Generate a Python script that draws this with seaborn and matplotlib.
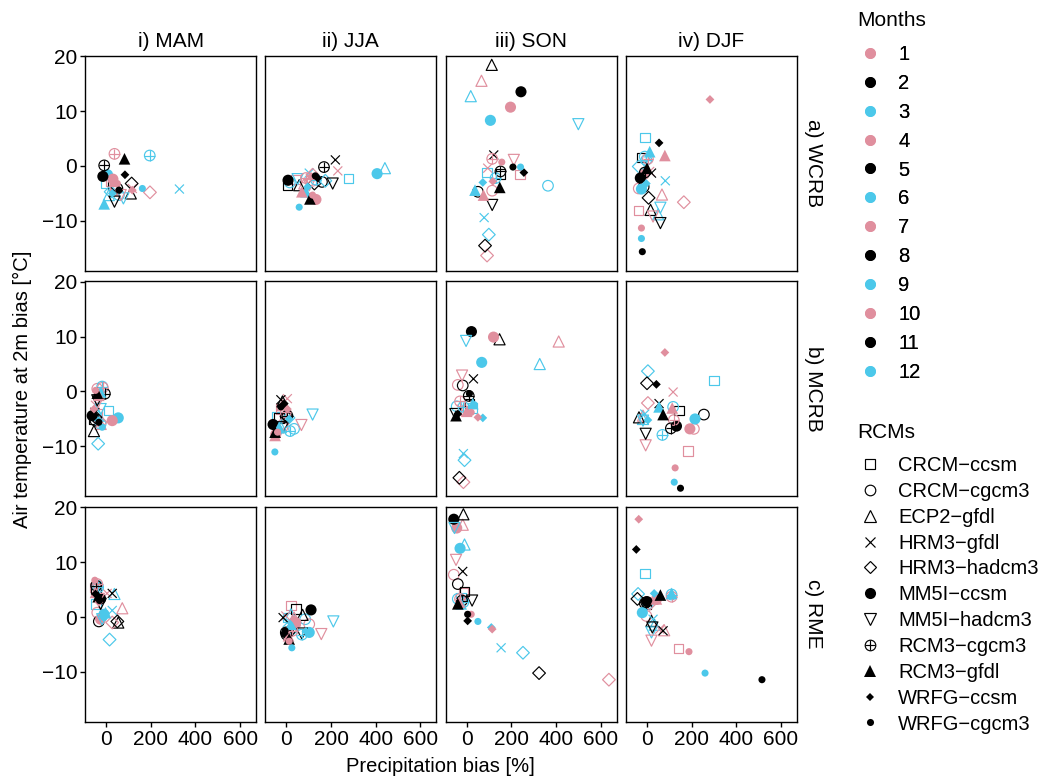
import matplotlib
matplotlib.use("Agg")
import matplotlib.pyplot as plt
from matplotlib.lines import Line2D
import pandas as pd
import seaborn as sns

REGIONS = ["WCRB", "MCRB", "RME"]
REGION_LABELS = ["a) WCRB", "b) MCRB", "c) RME"]
SEASONS = ["MAM", "JJA", "SON", "DJF"]
SEASON_LABELS = ["i) MAM", "ii) JJA", "iii) SON", "iv) DJF"]
SEASON_MONTHS = [[3, 4, 5], [6, 7, 8], [9, 10, 11], [12, 1, 2]]
RCMS = ["CRCM-ccsm", "CRCM-cgcm3", "ECP2-gfdl", "HRM3-gfdl", "HRM3-hadcm3", "MM5I-ccsm",
        "MM5I-hadcm3", "RCM3-cgcm3", "RCM3-gfdl", "WRFG-ccsm", "WRFG-cgcm3"]

# values per panel: RCM by RCM, each with the 3 months of the season
WCRB_MAM_X = [-3, 20, 27, 57, 42, 50, 12, 42, 110, 328, 117, 42, 20, 196, 114, 6, 30, -15,
              77, 65, 37, 195, 37, -9, -9, 35, 82, 27, 117, 84, 162, 50, 57]
WCRB_MAM_Y = [-3.2, -2.8, -3.6, -5.3, -4.4, -4.1, -5.3, -3.8, -5.0, -4.2, -4.1, -4.7, -4.7, -4.8, -3.2,
              -1.6, -2.4, -1.9, -5.9, -5.3, -6.5, 1.9, 2.2, 0.1, -6.9, -2.8, 1.3, -5.0, -4.4, -1.6,
              -4.1, -3.2, -4.4]
WCRB_JJA_X = [279, 42, 4, 15, 117, 159, 441, 80, 57, 102, 230, 219, 174, 117, 125, 406, 132, 7,
              50, 102, 207, 132, 87, 168, 87, 69, 105, 95, 110, 140, 57, 117, 129]
WCRB_JJA_Y = [-2.3, -2.5, -3.6, -3.0, -2.7, -2.9, -0.4, -3.2, -3.5, -1.3, -0.9, 1.1, -2.7, -1.6, -3.2,
              -1.4, -6.1, -2.6, -2.4, -3.5, -3.2, -2.5, -2.2, -0.2, -4.7, -4.7, -6.0, -3.8, -1.9, -2.2,
              -7.5, -5.3, -1.8]
WCRB_SON_X = [91, 238, 151, 364, 114, 50, 18, 66, 112, 78, 94, 121, 99, 91, 82, 106, 196, 243,
              500, 211, 114, 129, 114, 151, 37, 75, 148, 72, 117, 256, 241, 157, 207]
WCRB_SON_Y = [-1.2, -1.6, -1.5, -3.6, -4.5, -4.7, 12.7, 15.5, 18.4, -9.4, -0.4, 2.0, -12.5, -16.3, -14.5,
              8.3, 10.7, 13.5, 7.6, 1.1, -7.1, -2.2, 1.3, -1.0, -4.4, -5.3, -3.9, -3.0, -2.8, -1.2,
              -0.2, 0.7, -0.2]
WCRB_DJF_X = [-9, -37, -25, -10, -37, -15, 50, 67, 16, 82, 12, 20, -37, 165, 7, -25, -15, -30,
              60, 27, 60, -3, 4, -10, 12, 80, 0, -3, 282, 54, -25, -25, -21]
WCRB_DJF_Y = [5.2, -8.1, 1.5, 1.7, -4.1, -3.8, -8.8, -5.2, -8.0, -2.7, -1.0, -1.3, -0.1, -6.6, -5.8,
              -4.2, -1.6, -2.2, -7.6, -9.2, -10.4, 1.1, 1.3, -1.2, 2.6, 1.9, -0.4, -3.2, 12.1, 4.2,
              -13.2, -11.3, -15.6]

MCRB_MAM_X = [9, -40, -55, -25, -40, -48, -33, -25, -55, -40, -48, -51, -36, -25, -48, 54, 27, -63,
              -25, -36, -40, -18, -15, -6, -25, -33, -40, -33, -55, -66, -18, -48, -33]
MCRB_MAM_Y = [-3.5, -4.1, -5.0, -5.9, 0.5, -5.3, -4.4, -5.9, -7.2, -4.7, -2.5, -3.8, -9.5, -5.6, -4.7,
              -4.8, -5.3, -4.4, -3.2, -1.9, -1.6, 0.9, 0.7, -0.4, -0.1, -0.7, -0.3, -5.3, -3.2, -4.5,
              -6.5, 0.2, -5.6]
MCRB_JJA_X = [-45, -25, -33, 34, -18, -3, -25, -18, -18, -40, 4, -25, 9, -18, 0, -40, -48, -60,
              117, 67, -15, 16, -3, 4, -33, -51, -51, 12, 4, -10, -52, -40, -25]
MCRB_JJA_Y = [-4.5, -3.2, -4.8, -6.8, -6.5, -4.7, -6.5, -2.5, -1.8, -5.9, -1.3, -1.5, -4.8, -5.9, -4.5,
              -7.1, -7.8, -6.0, -4.2, -6.1, -6.5, -7.2, -3.8, -4.4, -6.5, -8.0, -7.4, -5.0, -3.2, -2.2,
              -11.0, -7.4, -2.8]
MCRB_SON_X = [27, -3, 12, -45, -40, -18, 327, 412, 147, -15, -25, 30, -10, -15, -33, 67, 120, 21,
              -3, -21, -51, -15, -30, 9, 27, 0, -48, 72, 50, -40, 34, 20, 12]
MCRB_SON_Y = [-3.0, -3.5, -2.2, -2.7, 1.2, 1.1, 5.0, 9.1, 9.5, -11.3, -3.2, 2.3, -12.5, -16.5, -15.7,
              5.3, 9.9, 10.9, 9.2, 2.9, -4.1, -2.8, -1.8, -0.8, -2.2, -3.6, -4.4, -4.8, -4.7, -4.1,
              -2.4, -3.8, -0.4]
MCRB_DJF_X = [301, 184, 143, 117, 210, 255, -18, -18, -36, -10, 117, 54, 4, 4, 0, 215, 192, 132,
              -18, -6, -6, 69, 120, 107, 54, 113, 72, 4, 80, 42, 122, 126, 150]
MCRB_DJF_Y = [2.0, -10.8, -3.5, -2.8, -6.8, -4.2, -5.0, -4.4, -4.7, -4.1, -0.1, -2.2, 3.7, -2.1, 1.5,
              -5.0, -6.8, -6.3, -5.3, -9.8, -7.7, -7.9, -5.2, -6.7, -2.8, -3.0, -4.2, -5.2, 7.1, 1.3,
              -16.5, -13.9, -17.6]

RME_MAM_X = [-45, -51, -45, -40, -40, -33, 37, 72, 54, 27, 4, 27, 15, 27, 50, -10, -25, -25,
             -18, -33, -25, -36, -40, -45, -3, -48, -36, -15, -33, -48, -10, -51, -30]
RME_MAM_Y = [2.4, 5.4, 5.1, 5.7, 0.8, -0.8, 4.2, 1.6, -1.0, 1.2, 4.3, 4.3, -4.1, -1.0, -0.8,
             0.5, -0.4, 3.3, -0.4, 3.3, 2.4, 5.4, 6.0, 5.7, 0.8, 4.5, 3.7, 0.2, 2.7, 4.2,
             -0.1, 6.7, 3.0]
RME_JJA_X = [4, 20, 42, 84, 102, -3, 20, 34, 72, 4, -3, -15, 27, 34, 9, 102, 42, 110,
             210, 156, 69, 69, 27, 0, 20, 9, 12, 87, 34, -10, 24, 12, -6]
RME_JJA_Y = [-0.1, 2.1, 1.5, -0.4, -1.3, -2.8, 0.5, -0.1, 0.4, -1.0, 0.2, -0.1, -2.2, -1.6, -2.8,
             -2.8, -1.0, 1.3, -0.8, -3.1, -3.0, -3.2, -2.5, -3.2, -1.3, -3.4, -4.0, -2.6, -0.4, -3.0,
             -5.6, -4.4, -2.5]
RME_SON_X = [-25, -15, -10, -40, -58, -40, -10, -18, -15, 154, -25, -18, 252, 637, 324, -30, -45, -58,
             -55, -48, 24, -15, -30, -21, -25, -33, -40, 110, 114, 4, 50, 20, 4]
RME_SON_Y = [3.6, 4.5, 4.7, 3.3, 7.7, 6.0, 13.2, 16.8, 18.7, -5.6, 2.7, 8.3, -6.5, -11.4, -10.2,
             12.5, 16.2, 17.8, 16.2, 10.4, 3.0, 2.7, 3.3, 3.0, 2.4, 2.7, 2.4, -1.9, -2.2, -0.7,
             -0.8, 0.5, 0.5]
RME_DJF_X = [-9, 141, -3, 4, -3, -10, 34, 77, 20, 27, 57, 72, -40, 12, -43, -21, 42, 0,
             20, 20, 24, 110, 110, -3, 110, 42, 60, 32, -37, -48, 260, 188, 515]
RME_DJF_Y = [7.9, -5.7, 2.4, 2.4, 0.2, 2.5, -1.4, -2.4, -0.7, -0.4, -2.2, -2.5, 4.2, 2.4, 3.3,
             0.8, 3.2, 2.8, -2.8, -4.3, -1.9, 4.1, 3.7, 2.7, 4.3, 3.3, 4.0, 4.3, 17.8, 12.3,
             -10.2, -6.3, -11.4]

PANELS = {
    ("WCRB", "MAM"): (WCRB_MAM_X, WCRB_MAM_Y), ("WCRB", "JJA"): (WCRB_JJA_X, WCRB_JJA_Y),
    ("WCRB", "SON"): (WCRB_SON_X, WCRB_SON_Y), ("WCRB", "DJF"): (WCRB_DJF_X, WCRB_DJF_Y),
    ("MCRB", "MAM"): (MCRB_MAM_X, MCRB_MAM_Y), ("MCRB", "JJA"): (MCRB_JJA_X, MCRB_JJA_Y),
    ("MCRB", "SON"): (MCRB_SON_X, MCRB_SON_Y), ("MCRB", "DJF"): (MCRB_DJF_X, MCRB_DJF_Y),
    ("RME", "MAM"): (RME_MAM_X, RME_MAM_Y), ("RME", "JJA"): (RME_JJA_X, RME_JJA_Y),
    ("RME", "SON"): (RME_SON_X, RME_SON_Y), ("RME", "DJF"): (RME_DJF_X, RME_DJF_Y),
}

PINK, BLACK, CYAN = "#E08F9E", "#000000", "#4CC8EA"
MONTH_COLORS = {str(m): [CYAN, PINK, BLACK][m % 3] for m in range(1, 13)}

# marker, size (pt^2), hollow
STYLES = {
    "CRCM-ccsm": ("s", 46, True),
    "CRCM-cgcm3": ("o", 58, True),
    "ECP2-gfdl": ("^", 64, True),
    "HRM3-gfdl": ("x", 42, True),
    "HRM3-hadcm3": ("D", 42, True),
    "MM5I-ccsm": ("o", 64, False),
    "MM5I-hadcm3": ("v", 64, True),
    "RCM3-cgcm3": ("o", 58, True),
    "RCM3-gfdl": ("^", 70, False),
    "WRFG-ccsm": ("D", 20, False),
    "WRFG-cgcm3": ("o", 26, False),
}
LW = 0.85

rows = []
for reg in REGIONS:
    for si, sea in enumerate(SEASONS):
        xs, ys = PANELS[(reg, sea)]
        for i in range(len(xs)):
            rows.append(dict(region=reg, season=sea, rcm=RCMS[i // 3],
                             month=str(SEASON_MONTHS[si][i % 3]), precip=xs[i], temp=ys[i]))
df = pd.DataFrame(rows)

sns.set_style("white")
plt.rcParams["font.family"] = ["Liberation Sans", "DejaVu Sans"]
plt.rcParams["text.color"] = "black"

fig, axes = plt.subplots(3, 4, figsize=(10.62, 7.78), dpi=100, sharex=True, sharey=True)
fig.subplots_adjust(left=85 / 1062, right=797 / 1062, top=1 - 55.5 / 778, bottom=1 - 722 / 778,
                    wspace=0.053, hspace=0.047)


def draw(ax, sub, marker, size, hollow):
    sns.scatterplot(data=sub, x="precip", y="temp", hue="month", palette=MONTH_COLORS,
                    marker=marker, s=size, linewidth=0, legend=False, ax=ax, zorder=3)
    pts = ax.collections[-1]
    if hollow:
        fc = pts.get_facecolors()
        pts.set_facecolors("none")
        pts.set_edgecolors(fc)
        pts.set_linewidths(LW)


for r, reg in enumerate(REGIONS):
    for c, sea in enumerate(SEASONS):
        ax = axes[r, c]
        panel = df[(df.region == reg) & (df.season == sea)]
        for rcm in RCMS:
            sub = panel[panel.rcm == rcm]
            marker, size, hollow = STYLES[rcm]
            draw(ax, sub, marker, size, hollow)
            if rcm == "RCM3-cgcm3":
                draw(ax, sub, "+", size, True)
        ax.set_xlim(-95, 672)
        ax.set_ylim(-19.1, 20.1)
        ax.set_xlabel("")
        ax.set_ylabel("")
        ax.set_xticks([0, 200, 400, 600])
        ax.set_yticks([-10, 0, 10, 20])
        for sp in ax.spines.values():
            sp.set_color("black")
            sp.set_linewidth(1.0)
        ax.tick_params(axis="both", labelsize=15, colors="black", length=3.5, width=1,
                       direction="out", left=(c == 0), bottom=(r == 2), pad=2)
        if r == 0:
            ax.set_title(SEASON_LABELS[c], fontsize=15, pad=6, color="black")
        if c == 3:
            ax.text(1 + 16 / 171, 0.5, REGION_LABELS[r], rotation=-90, fontsize=15,
                    ha="center", va="center", transform=ax.transAxes)

fig.text(22 / 1062, 1 - 389 / 778, "Air temperature at 2m bias [°C]", rotation=90,
         fontsize=14.5, ha="center", va="center")
fig.text(440 / 1062, 1 - 767 / 778, "Precipitation bias [%]", fontsize=14.5,
         ha="center", va="center")

# legends: titles as separate texts so the gaps match
fig.text(857 / 1062, 1 - 20 / 778, "Months", fontsize=15, ha="left", va="center")
fig.text(857 / 1062, 1 - 433 / 778, "RCMs", fontsize=15, ha="left", va="center")

month_handles = [Line2D([], [], marker="o", ls="", color=MONTH_COLORS[str(m)], markersize=6.8)
                 for m in range(1, 13)]
leg1 = fig.legend(month_handles, [str(m) for m in range(1, 13)],
                  loc="upper left", bbox_to_anchor=(850 / 1062, 1 - 37 / 778), frameon=False,
                  fontsize=14.5, labelspacing=0.49, handletextpad=0.8, handlelength=1.2,
                  borderaxespad=0, labelcolor="black")

rcm_handles = []
for rcm in RCMS:
    marker, size, hollow = STYLES[rcm]
    h = Line2D([], [], marker=marker, ls="", markersize=size ** 0.5,
               markerfacecolor="none" if hollow else "black", markeredgecolor="black",
               markeredgewidth=LW if hollow else 0)
    if rcm == "RCM3-cgcm3":
        h = (h, Line2D([], [], marker="+", ls="", markersize=size ** 0.5, color="black",
                       markeredgewidth=LW))
    rcm_handles.append(h)
fig.legend(rcm_handles, [n.replace("-", "\u2212") for n in RCMS],
           loc="upper left", bbox_to_anchor=(850 / 1062, 1 - 448 / 778), frameon=False,
           fontsize=14.5, labelspacing=0.34, handletextpad=0.8, handlelength=1.2,
           borderaxespad=0, labelcolor="black")
fig.add_artist(leg1)

fig.savefig("out.png", dpi=100)
